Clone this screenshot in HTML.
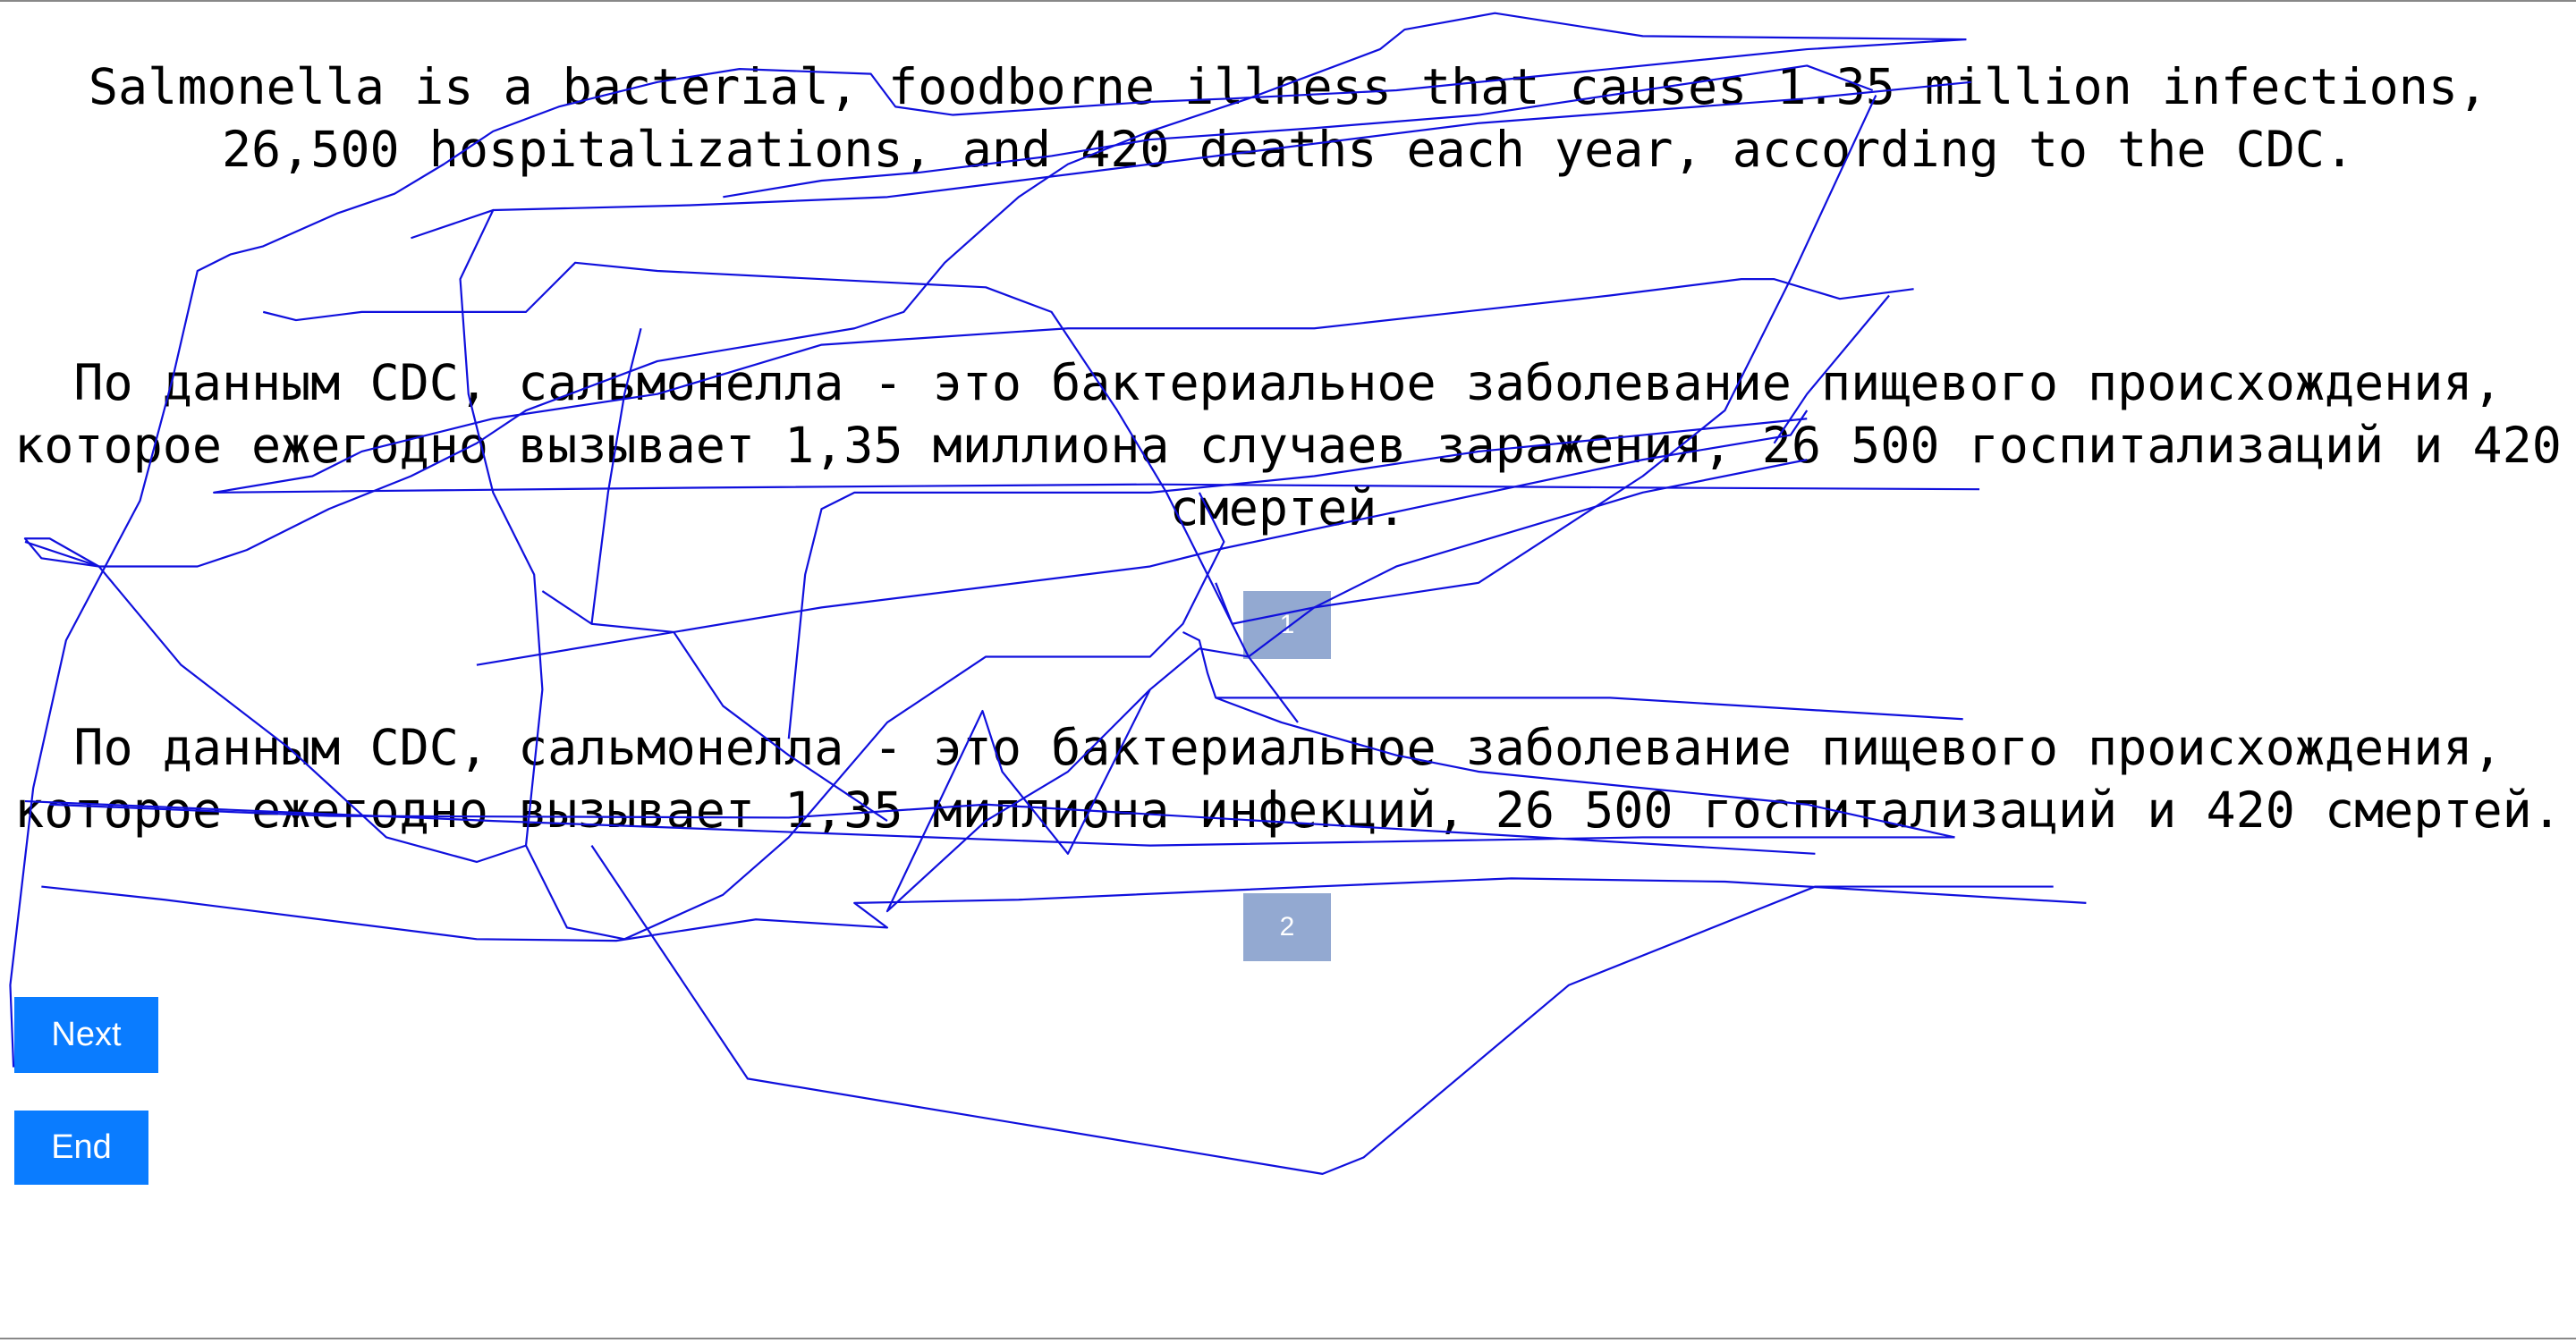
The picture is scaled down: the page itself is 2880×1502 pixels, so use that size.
<!DOCTYPE html>
<html><head><meta charset="utf-8"><style>
html,body{margin:0;padding:0;background:#fff;}
body{width:2880px;height:1502px;position:relative;overflow:hidden;}
.frame{position:absolute;left:0;top:0;width:2880px;height:1498px;border-top:2px solid #888;border-bottom:2px solid #888;box-sizing:border-box;}
.t{position:absolute;left:0;width:2880px;text-align:center;font-family:"DejaVu Sans Mono","Liberation Mono",monospace;font-size:55px;line-height:70px;color:#000;white-space:pre;}
.box{position:absolute;background:#93a9d1;color:#fff;font-family:"Liberation Sans",sans-serif;font-size:30px;display:flex;align-items:center;justify-content:center;}
.btn{position:absolute;background:#0a7cff;color:#fff;font-family:"Liberation Sans",sans-serif;font-size:38px;display:flex;align-items:center;justify-content:center;}
svg{position:absolute;left:0;top:0;}
</style></head><body>
<div class="frame"></div>
<div class="t" style="top:62px">Salmonella is a bacterial, foodborne illness that causes 1.35 million infections,
26,500 hospitalizations, and 420 deaths each year, according to the CDC.</div>
<div class="t" style="top:393px">По данным CDC, сальмонелла - это бактериальное заболевание пищевого происхождения,
которое ежегодно вызывает 1,35 миллиона случаев заражения, 26 500 госпитализаций и 420
смертей.</div>
<div class="box" style="left:1390px;top:661px;width:98px;height:76px">1</div>
<div class="t" style="top:801px">По данным CDC, сальмонелла - это бактериальное заболевание пищевого происхождения,
которое ежегодно вызывает 1,35 миллиона инфекций, 26 500 госпитализаций и 420 смертей.</div>
<div class="box" style="left:1390px;top:999px;width:98px;height:76px">2</div>
<div class="btn" style="left:16px;top:1115px;width:161px;height:85px">Next</div>
<div class="btn" style="left:16px;top:1242px;width:150px;height:83px">End</div>
<svg width="2880" height="1502" viewBox="0 0 1568 818" fill="none" stroke="#1010dd" stroke-width="1.2" stroke-linejoin="round">
<polyline points="8,650 6,600 20,480 40,390 85,305 105,230 120,165 140,155 160,150 205,130 240,118 270,100 300,80 340,65 400,50 450,42 530,45 545,65 580,70 700,62 750,60 850,55 950,45 1100,30 1197,24"/>
<polyline points="1197,24 1000,22 910,8 855,18 840,30 760,60 700,80 650,100 620,120 575,160 550,190 520,200 400,220 320,250 290,270 250,290 200,310 150,335 120,345 60,345 25,340 15,328 30,328 60,345"/>
<polyline points="1165,176 1120,182 1080,170 1060,170 980,180 800,200 650,200 500,210 400,240 300,255 220,275 190,290 130,300 430,297 700,295 1000,297 1205,298"/>
<polyline points="1142,58 1090,170 1050,250 1000,290 900,355 800,370 760,400 730,395 700,420 650,470 600,500 540,555 598,433 610,470 650,520 700,420"/>
<polyline points="290,405 500,370 700,345 740,335 1000,280 1090,265 1100,250"/>
<polyline points="25,540 100,548 290,572 375,573 460,560 540,565 520,550 620,548 800,540 920,535 1050,537 1270,550"/>
<polyline points="360,515 455,657 805,715 830,705 955,600 1105,540 1250,540"/>
<polyline points="15,330 60,345 110,405 175,455 235,510 290,525 320,515 345,565 380,572 440,545 480,510 540,440 600,400 700,400 720,380 745,330 730,300"/>
<polyline points="160,190 180,195 220,190 320,190 350,160 400,165 600,175 640,190 680,250 710,300 740,360 760,400 790,440"/>
<polyline points="250,145 300,128 420,125 540,120 620,110 700,100 900,75 1100,60 1200,50"/>
<polyline points="480,450 490,350 500,310 520,300 700,300 800,290 900,275 1000,265 1100,255"/>
<polyline points="740,425 980,425 1195,438"/>
<polyline points="30,490 200,497 480,498 600,490 1105,520"/>
<polyline points="15,488 300,500 700,515 1000,510 1190,510"/>
<polyline points="280,170 300,128 280,170 285,240 300,300 325,350 330,420 320,515"/>
<polyline points="360,380 370,300 380,240 390,200"/>
<polyline points="330,360 360,380 410,385 440,430 480,460 540,500"/>
<polyline points="740,355 750,380 800,370 850,345 900,330 1000,300 1100,280"/>
<polyline points="1080,270 1100,240 1150,180"/>
<polyline points="440,120 500,110 560,105 640,95 700,85 800,78 900,70 1100,40 1140,55"/>
<polyline points="720,385 730,390 735,410 740,425 780,440 850,460 900,470 1000,480 1100,490 1190,510"/>
</svg>
</body></html>
